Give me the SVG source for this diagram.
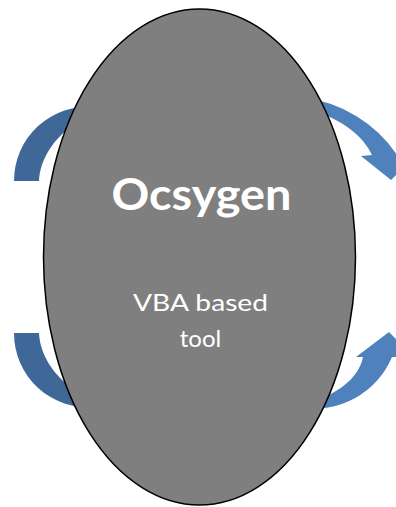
<svg xmlns="http://www.w3.org/2000/svg" width="396" height="507" viewBox="0 0 396 507">
  <style>
    .arrow-back { fill: #3F6797; }
    .arrow-front { fill: #4F81BD; }
    .hub { fill: #7F7F7F; stroke: #000000; stroke-width: 1.5; }
    .title { font-family: Lato, "Open Sans", "Liberation Sans", sans-serif; font-weight: bold; font-size: 44px; fill: #FFFFFF; text-anchor: middle; }
    .sub { font-family: Lato, "Open Sans", "Liberation Sans", sans-serif; font-size: 24px; fill: #FFFFFF; text-anchor: middle; }
  </style>

  <!-- curved arrows circling the hub; their middles pass behind the ellipse -->
  <g id="connectors">
    <path id="arrow-top-left" class="arrow-back" d="M14,181 A74,74 0 0 1 95,107 L95,120 L72,126 C55,138 40,158 39,181 Z"/>
    <path id="arrow-bottom-left" class="arrow-back" d="M14,333 A74,74 0 0 0 95,407 L95,394 L72,388 C55,376 40,356 39,333 Z"/>
    <path id="arrow-top-right" class="arrow-front" d="M300,97.5 A131,131 0 0 1 399,158 L413,158 L391,180 L361,156 L372,155 C365,140 350,124 318,112 Z"/>
    <path id="arrow-bottom-right" class="arrow-front" d="M300,407.5 A84.4,84.4 0 0 0 392,357 L414,357 L389,332 L356,357 L363,357 C360,372 348,388 318,400 Z"/>
  </g>

  <!-- central hub -->
  <g id="ocsygen">
    <ellipse class="hub" cx="199.5" cy="257" rx="156" ry="248"/>
    <text class="title" x="201.5" y="210" textLength="180" lengthAdjust="spacingAndGlyphs">Ocsygen</text>
    <text class="sub" x="200.5" y="310.5" textLength="135" lengthAdjust="spacingAndGlyphs">VBA based</text>
    <text class="sub" x="200.5" y="346.5">tool</text>
  </g>
</svg>
